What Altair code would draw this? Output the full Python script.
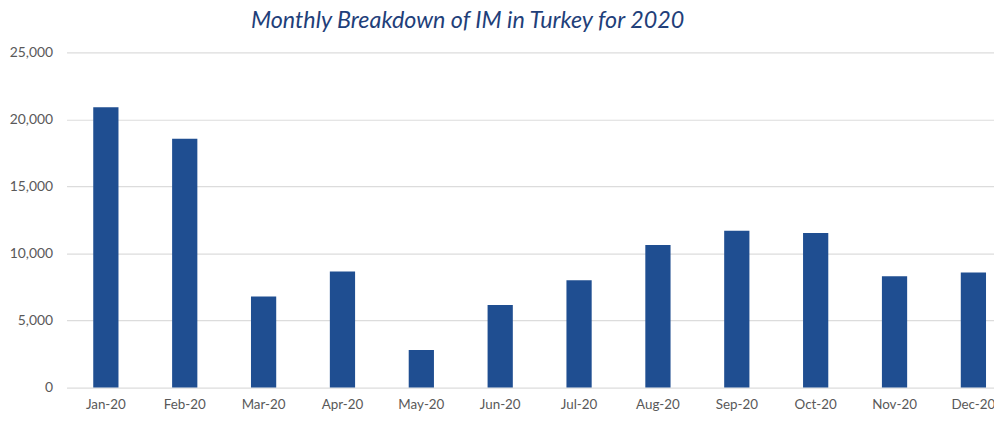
import altair as alt
import pandas as pd

months = ["Jan-20", "Feb-20", "Mar-20", "Apr-20", "May-20", "Jun-20",
          "Jul-20", "Aug-20", "Sep-20", "Oct-20", "Nov-20", "Dec-20"]
values = [20900, 18550, 6800, 8650, 2800, 6150, 8000, 10630, 11690, 11520, 8300, 8580]
y_ticks = [0, 5000, 10000, 15000, 20000, 25000]
title_text = "Monthly Breakdown of IM in Turkey for 2020"

df = pd.DataFrame({"month": months, "value": values})

chart = alt.Chart(df).mark_bar(color="#1f4e91").encode(
    x=alt.X("month:N", sort=months, title=None,
            scale=alt.Scale(paddingInner=0.68, paddingOuter=0.22, align=0.77),
            axis=alt.Axis(labelAngle=0, labelFont="Lato", labelFontSize=13.5,
                          labelColor="#595959", labelPadding=10, ticks=False,
                          domain=False, grid=False)),
    y=alt.Y("value:Q", title=None,
            scale=alt.Scale(domain=[0, 25000], nice=False),
            axis=alt.Axis(values=y_ticks, format=",d", labelFont="Lato",
                          labelFontSize=14, labelColor="#595959", labelPadding=14,
                          ticks=False, domain=False, gridColor="#dcdcdc",
                          gridWidth=1.2)),
).properties(
    width=935,
    height=338,
    autosize=alt.AutoSizeParams(type="none"),
    padding={"left": 59, "top": 43, "right": 0, "bottom": 30},
    title=alt.TitleParams(title_text, anchor="start", frame="group", dx=186,
                          offset=13, font="Lato", fontStyle="italic",
                          fontWeight="normal", fontSize=23.5, color="#1f3f7a"),
).configure_view(stroke=None)

chart.save("out.html", embed_options={"renderer": "svg", "actions": False})
